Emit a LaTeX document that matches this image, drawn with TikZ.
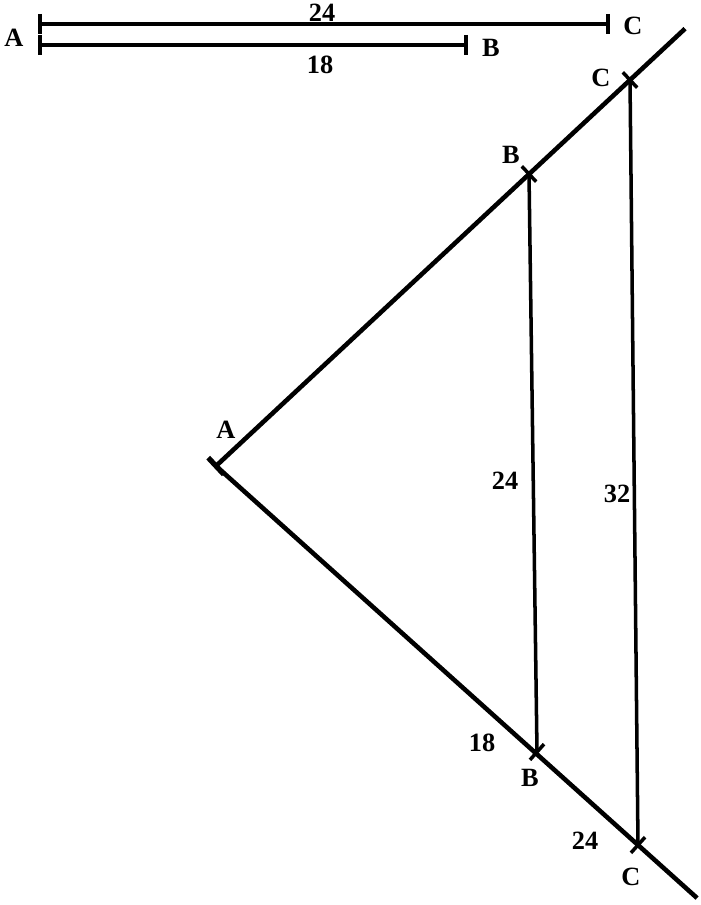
\documentclass[tikz,border=0pt]{standalone}
\usepackage{fontspec}
\setmainfont{Liberation Serif}
\usetikzlibrary{calc}
\begin{document}
\begin{tikzpicture}[x=0.02cm,y=-0.02cm,
  lbl/.style={font=\fontsize{15}{17}\selectfont\bfseries,inner sep=0pt},
  ray/.style={line width=2.6pt},
  seg/.style={line width=2pt},
  tk/.style={line width=2pt}]
\useasboundingbox (0,0) rectangle (700,905);
\coordinate (a1)at(40,24);
\coordinate (c1)at(608,24);
\coordinate (a2)at(40,45);
\coordinate (b2)at(466,45);
\draw[ray] (a1)--(c1);
\draw[ray] (a2)--(b2);
\foreach \p in {a1,c1,a2,b2} \draw[tk] ($(\p)+(0,-10)$)--($(\p)+(0,10)$);
\node[lbl] (lA)at(14,38){A};
\node[lbl] (lC)at(633,26){C};
\node[lbl] (lB)at(491,48){B};
\node[lbl] (l24)at(322,13){24};
\node[lbl] (l18)at(320,65){18};
\coordinate (A)at(216,466);
\coordinate (Bu)at(529,174);
\coordinate (Cu)at(630,80);
\coordinate (Bd)at(537,752);
\coordinate (Cd)at(638,845);
\coordinate (Eu)at($(A)!1.133!(Cu)$);
\coordinate (Ed)at($(A)!1.14!(Cd)$);
\draw[ray] (A)--(Eu);
\draw[ray] (A)--(Ed);
\draw[seg] (Bu)--(Bd);
\draw[seg] (Cu)--(Cd);
\foreach \p/\q in {Bu/A,Cu/A,Bd/A,Cd/A} \draw[tk] ($(\p)!6pt!90:(\q)$)--($(\p)!6pt!-90:(\q)$);
\draw[line width=3pt] ($(A)!6.5pt!90:(Cu)$)--($(A)!6.5pt!-90:(Cu)$);
\node[lbl] (nA)at(226,430){A};
\node[lbl] (nBu)at(511,155){B};
\node[lbl] (nCu)at(601,78){C};
\node[lbl] (nBd)at(530,778){B};
\node[lbl] (nCd)at(631,877){C};
\node[lbl] (n24)at(505,481){24};
\node[lbl] (n32)at(617,494){32};
\node[lbl] (n18)at(482,743){18};
\node[lbl] (n24b)at(585,841){24};
\end{tikzpicture}
\end{document}
